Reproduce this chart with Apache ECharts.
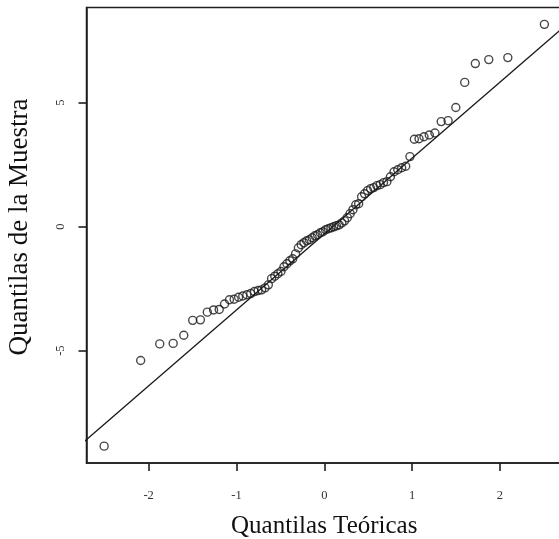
<!DOCTYPE html>
<html>
<head>
<meta charset="utf-8">
<script src="https://cdn.jsdelivr.net/npm/echarts@6/dist/echarts.min.js"></script>
<style>
  html, body { margin: 0; padding: 0; background: #ffffff; }
  #chart { width: 559px; height: 539px; }
</style>
</head>
<body>
<div id="chart"></div>
<script>
// Theoretical quantiles (normal scores, n = 82)
const theoreticalQuantiles = [
  -2.5063, -2.0903, -1.8732, -1.7202, -1.5993, -1.4980, -1.4100, -1.3314, -1.2604, -1.1960,
  -1.1354, -1.0793, -1.0260, -0.9756, -0.9275, -0.8814, -0.8371, -0.7947, -0.7532, -0.7134,
  -0.6745, -0.6366, -0.5996, -0.5633, -0.5279, -0.4931, -0.4588, -0.4251, -0.3919, -0.3590,
  -0.3267, -0.2946, -0.2628, -0.2314, -0.2000, -0.1689, -0.1380, -0.1072, -0.0765, -0.0459,
  -0.0153, 0.0153, 0.0459, 0.0765, 0.1072, 0.1380, 0.1689, 0.2000, 0.2314, 0.2628,
  0.2946, 0.3267, 0.3590, 0.3919, 0.4251, 0.4588, 0.4931, 0.5279, 0.5633, 0.5996,
  0.6366, 0.6745, 0.7134, 0.7532, 0.7947, 0.8371, 0.8814, 0.9275, 0.9756, 1.0260,
  1.0793, 1.1354, 1.1960, 1.2604, 1.3314, 1.4100, 1.4980, 1.5993, 1.7202, 1.8732,
  2.0903, 2.5063
];
// Sample quantiles (sorted sample values)
const sampleQuantiles = [
  -8.85, -5.40, -4.73, -4.71, -4.38, -3.78, -3.76, -3.45, -3.36, -3.34,
  -3.12, -2.95, -2.93, -2.85, -2.80, -2.75, -2.70, -2.62, -2.58, -2.55,
  -2.47, -2.35, -2.10, -2.00, -1.90, -1.81, -1.62, -1.50, -1.38, -1.30,
  -1.10, -0.86, -0.73, -0.65, -0.57, -0.53, -0.45, -0.37, -0.33, -0.25,
  -0.21, -0.13, -0.09, -0.05, -0.01, 0.03, 0.07, 0.15, 0.23, 0.36,
  0.52, 0.68, 0.88, 0.92, 1.20, 1.32, 1.45, 1.53, 1.57, 1.65,
  1.69, 1.77, 1.81, 2.01, 2.21, 2.29, 2.37, 2.43, 2.82, 3.52,
  3.54, 3.62, 3.69, 3.77, 4.23, 4.27, 4.80, 5.81, 6.57, 6.73,
  6.81, 8.15
];
// Reference line (qqline) end points
const refLineX = [-2.8, 2.8];
const refLineY = [-8.868, 8.268];
// Axis ticks and ranges
const xTicks = [-2, -1, 0, 1, 2];
const yTicks = [-5, 0, 5];
const xRange = [-2.707, 2.707];
const yRange = [-9.53, 8.83];

const xTitle = 'Quantilas Teóricas';
const yTitle = 'Quantilas de la Muestra';

const FONT = '"Liberation Serif", "Times New Roman", serif';
const INK = '#1e1e1e';

const points = theoreticalQuantiles.map((x, i) => [x, sampleQuantiles[i]]);
const lineData = refLineX.map((x, i) => [x, refLineY[i]]);

const chart = echarts.init(document.getElementById('chart'), null, { renderer: 'canvas' });
chart.setOption({
  animation: false,
  backgroundColor: '#ffffff',
  grid: {
    left: 86.5, top: 7.5, width: 475.5, height: 455.5,
    outerBoundsMode: 'none',
    containLabel: false,
    show: true, borderColor: INK, borderWidth: 1.5, backgroundColor: 'transparent'
  },
  xAxis: {
    type: 'value', position: 'bottom',
    min: xRange[0], max: xRange[1],
    splitLine: { show: false },
    axisLine: { show: true, onZero: false, lineStyle: { color: INK, width: 1.5 } },
    axisTick: { show: true, customValues: xTicks, length: 8, lineStyle: { color: INK, width: 1.6 } },
    axisLabel: { customValues: xTicks, margin: 26, fontFamily: FONT, fontSize: 12.5, color: '#333' },
    name: xTitle, nameLocation: 'middle', nameGap: 51,
    nameTextStyle: { fontFamily: FONT, fontSize: 25, color: '#111' }
  },
  yAxis: {
    type: 'value', position: 'left',
    min: yRange[0], max: yRange[1],
    splitLine: { show: false },
    axisLine: { show: true, onZero: false, lineStyle: { color: INK, width: 1.5 } },
    axisTick: { show: true, customValues: yTicks, length: 8, lineStyle: { color: INK, width: 1.6 } },
    axisLabel: { customValues: yTicks, rotate: 90, margin: 19, fontFamily: FONT, fontSize: 12.5, color: '#333' }
  },
  graphic: [
    {
      type: 'text', x: 20, y: 227, rotation: Math.PI / 2,
      style: { text: yTitle, fontFamily: FONT, fontSize: 27, fill: '#111', align: 'center', verticalAlign: 'middle' }
    }
  ],
  series: [
    {
      type: 'line', data: lineData, showSymbol: false, clip: true,
      lineStyle: { color: '#1a1a1a', width: 1.3 }, silent: true, z: 1
    },
    {
      type: 'scatter', data: points, symbol: 'circle', symbolSize: 8,
      itemStyle: { color: 'rgba(255,255,255,0)', borderColor: '#1a1a1a', borderWidth: 1.4 },
      clip: false, z: 2
    }
  ]
});
</script>
</body>
</html>
